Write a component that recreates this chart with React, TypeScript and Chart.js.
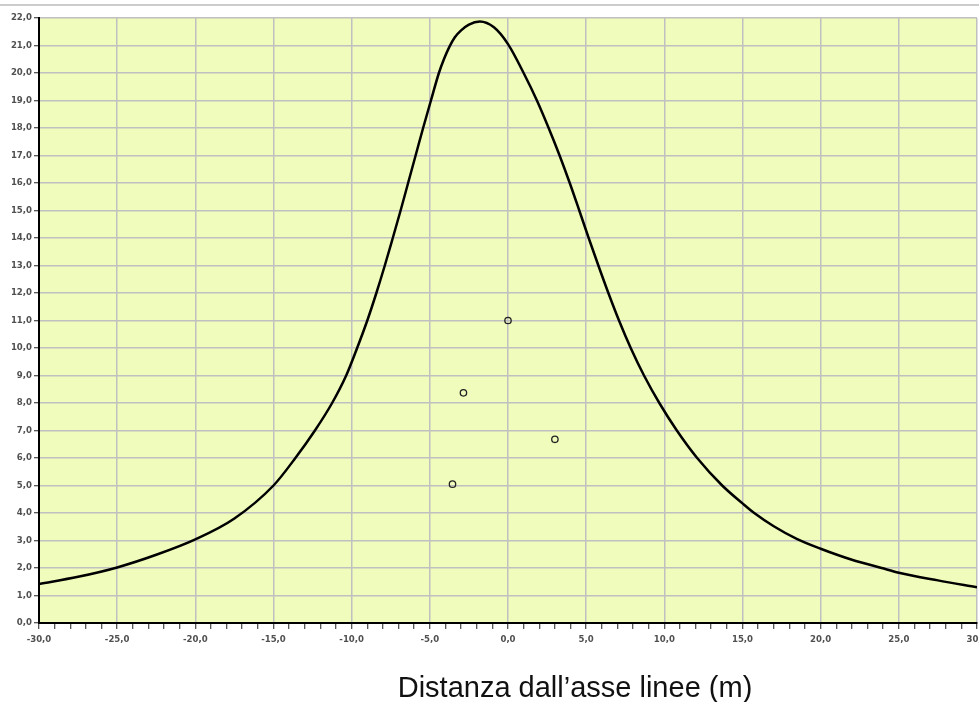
import { useEffect, useRef } from 'react';
import { Chart, registerables } from 'chart.js';

Chart.register(...registerables);

// Curve: field profile vs distance from line axis
const curveX = [-30, -27.5, -25, -22.5, -20, -17.5, -15, -13.6, -12.35, -11.25, -10.35, -9.65, -9.0, -8.42, -7.88, -7.37, -6.87, -6.39, -5.91, -5.43, -4.93, -4.42, -4.1, -3.75, -3.4, -3.0, -2.5, -1.8, -0.9, 0, 1.0, 1.85, 2.6, 3.3, 3.95, 4.56, 5.16, 5.78, 6.42, 7.1, 7.85, 8.7, 9.68, 10.8, 12.1, 13.7, 15.0, 15.75, 17.0, 18.5, 20, 22, 23.9, 25, 27.5, 30];
const curveY = [1.42, 1.68, 2.02, 2.48, 3.04, 3.8, 5.0, 6.0, 7.0, 8.0, 9.0, 10.0, 11.0, 12.0, 13.0, 14.0, 15.0, 16.0, 17.0, 18.0, 19.0, 20.0, 20.5, 20.95, 21.3, 21.55, 21.76, 21.87, 21.66, 21.05, 20.0, 19.0, 18.0, 17.0, 16.0, 15.0, 14.0, 13.0, 12.0, 11.0, 10.0, 9.0, 8.0, 7.0, 6.0, 5.0, 4.35, 4.0, 3.52, 3.05, 2.7, 2.3, 2.0, 1.83, 1.55, 1.3];

// Measured points
const pointX = [0.0, -2.85, 3.0, -3.55];
const pointY = [11.0, 8.37, 6.68, 5.05];

const xMin = -30;
const xMax = 30;
const yMin = 0;
const yMax = 22;
const xTitle = 'Distanza dall\u2019asse linee (m)';

const BG = 'rgb(240,252,187)';
const GRID = 'rgb(192,192,192)';
const LABEL = '#505050';
const TICKFONT = { family: "'DejaVu Sans Condensed', 'DejaVu Sans', sans-serif", size: 9.5, weight: 'bold' as const };

const fmt = (v: number) => (Math.abs(v) < 1e-9 ? 0 : v).toFixed(1).replace('.', ',');

const CANVAS_W = 1000;
const CANVAS_H = 702;

const bgPlugin = {
  id: 'plotBg',
  beforeDraw(chart: any) {
    const { ctx, chartArea } = chart;
    if (!chartArea) return;
    ctx.save();
    ctx.fillStyle = BG;
    ctx.fillRect(chartArea.left, chartArea.top, chartArea.right - chartArea.left, chartArea.bottom - chartArea.top);
    ctx.restore();
  },
};

export default function App() {
  const ref = useRef<HTMLCanvasElement | null>(null);

  useEffect(() => {
    if (!ref.current) return;
    const chart = new Chart(ref.current, {
      type: 'scatter',
      data: {
        datasets: [
          {
            label: 'curve',
            data: curveX.map((x, i) => ({ x, y: curveY[i] })),
            showLine: true,
            borderColor: '#000',
            borderWidth: 2.5,
            pointRadius: 0,
            cubicInterpolationMode: 'monotone',
          } as any,
          {
            label: 'points',
            data: pointX.map((x, i) => ({ x, y: pointY[i] })),
            showLine: false,
            pointStyle: 'circle',
            pointRadius: 3.2,
            borderColor: '#222',
            borderWidth: 1.3,
            backgroundColor: 'rgba(0,0,0,0)',
          } as any,
        ],
      },
      options: {
        animation: false,
        responsive: false,
        layout: { padding: { top: 18, right: CANVAS_W - 977, left: 0, bottom: 0 } },
        plugins: { legend: { display: false }, tooltip: { enabled: false } },
        scales: {
          x: {
            type: 'linear',
            min: xMin,
            max: xMax,
            ticks: {
              stepSize: 1,
              autoSkip: false,
              maxRotation: 0,
              padding: 5,
              color: LABEL,
              font: TICKFONT,
              callback: (v: any) => (Math.abs(Number(v) % 5) < 1e-9 ? fmt(Number(v)) : ''),
            },
            grid: {
              color: (ctx: any) => (ctx.tick && Math.abs(ctx.tick.value % 5) < 1e-9 ? GRID : 'rgba(0,0,0,0)'),
              lineWidth: 1.5,
              tickColor: '#222',
              tickWidth: 1,
              tickLength: 6,
            },
            border: { color: '#000', width: 2 },
            afterFit: (s: any) => {
              s.height = CANVAS_H - 623;
            },
          },
          y: {
            type: 'linear',
            min: yMin,
            max: yMax,
            ticks: {
              stepSize: 1,
              autoSkip: false,
              padding: 2,
              color: LABEL,
              font: TICKFONT,
              callback: (v: any) => fmt(Number(v)),
            },
            grid: {
              color: GRID,
              lineWidth: 1.5,
              tickColor: '#222',
              tickWidth: 1,
              tickLength: 5,
            },
            border: { color: '#000', width: 2 },
            afterFit: (s: any) => {
              s.width = 39;
            },
          },
        },
      } as any,
      plugins: [bgPlugin],
    });
    return () => chart.destroy();
  }, []);

  return (
    <div style={{ position: 'fixed', left: 0, top: 0, width: 979, height: 702, overflow: 'hidden', background: '#fff' }}>
      <div style={{ position: 'absolute', left: 0, top: 4, width: 979, height: 2, background: '#cccccc' }} />
      <canvas ref={ref} width={CANVAS_W} height={CANVAS_H} style={{ position: 'absolute', left: 0, top: 0, display: 'block' }} />
      <div
        style={{
          position: 'absolute',
          left: 575,
          top: 670,
          transform: 'translateX(-50%)',
          whiteSpace: 'nowrap',
          fontFamily: "'Liberation Sans', Arial, sans-serif",
          fontSize: 29,
          lineHeight: '34px',
          color: '#111',
        }}
      >
        {xTitle}
      </div>
    </div>
  );
}
